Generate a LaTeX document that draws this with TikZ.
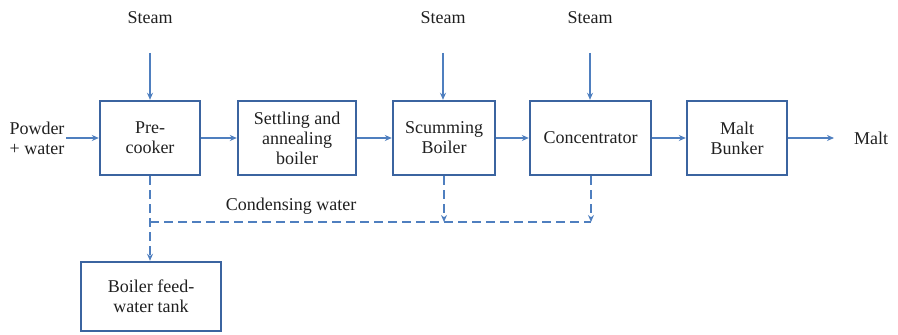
\documentclass[tikz,border=0pt]{standalone}
\usepackage{fontspec}
\setmainfont{Liberation Serif}
\usetikzlibrary{arrows.meta}
\definecolor{boxc}{HTML}{3B64A0}
\definecolor{arrc}{HTML}{4F7FBF}
\definecolor{txtc}{HTML}{202020}
\begin{document}
\begin{tikzpicture}[x=0.5pt,y=-0.5pt,
  every node/.style={font=\fontsize{9}{10}\selectfont, text=txtc, align=center, inner sep=0pt},
  blk/.style={draw=boxc, line width=1.2pt, minimum height=37pt},
  flow/.style={draw=arrc, line width=0.75pt, -{Stealth[length=3.5pt,width=3pt]}},
  cond/.style={draw=arrc, line width=0.75pt, dash pattern=on 4.5pt off 2.5pt},
  lbl/.style={}]
\useasboundingbox (0,0) rectangle (898,335);
\node[blk, minimum width=50pt] (pre) at (150,138) {Pre-\\cooker};
\node[blk, minimum width=59pt] (set) at (297,138) {Settling and\\annealing\\boiler};
\node[blk, minimum width=51pt] (scu) at (444,138) {Scumming\\Boiler};
\node[blk, minimum width=60.5pt] (con) at (590.5,138) {Concentrator};
\node[blk, minimum width=50pt] (mal) at (737,138) {Malt\\Bunker};
\node[blk, minimum width=70pt, minimum height=34.5pt] (tank) at (151,296.5) {Boiler feed-\\water tank};
\node[lbl] (pw) at (37,138) {Powder\\+ water};
\node[lbl] (malt) at (871,138) {Malt};
\node[lbl] (s1) at (150,18) {Steam};
\node[lbl] (s2) at (443,18) {Steam};
\node[lbl] (s3) at (590,18) {Steam};
\node[lbl] (cw) at (291,206) {Condensing water};
\coordinate (s1e) at (150,53);
\coordinate (s2e) at (443,53);
\coordinate (s3e) at (590,53);
\coordinate (pwe) at (66,138);
\coordinate (malte) at (834,138);
\coordinate (j1) at (150,222);
\coordinate (j2) at (444,222);
\coordinate (j3) at (591,222);
\draw[flow] (s1e) -- (pre.north);
\draw[flow] (s2e) -- (scu.north -| s2e);
\draw[flow] (s3e) -- (con.north -| s3e);
\draw[flow] (pwe) -- (pre.west);
\draw[flow] (pre.east) -- (set.west);
\draw[flow] (set.east) -- (scu.west);
\draw[flow] (scu.east) -- (con.west);
\draw[flow] (con.east) -- (mal.west);
\draw[flow] (mal.east) -- (malte);
\draw[cond] (j1) -- (j3);
\draw[cond, -{Stealth[length=3.5pt,width=3pt]}] (pre.south) -- (tank.north -| pre.south);
\draw[cond, -{Stealth[length=3.5pt,width=3pt]}] (scu.south) -- (j2);
\draw[cond, -{Stealth[length=3.5pt,width=3pt]}] (con.south -| j3) -- (j3);
\end{tikzpicture}
\end{document}
